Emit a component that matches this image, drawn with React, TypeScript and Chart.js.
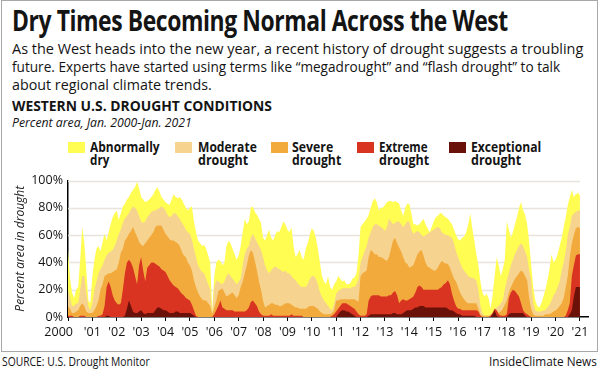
import React, { useEffect, useLayoutEffect, useRef, useState } from "react";
import { Chart, registerables } from "chart.js";

Chart.register(...registerables);

// ---------- DATA (monthly samples, Jan 2000 .. Jan 2021, cumulative % area) ----------
const START_YEAR = 2000;
const STEPS_PER_YEAR = 12;

const ABNORMALLY_DRY = [
  49, 28, 18, 14, 20, 22, 42, 66, 55, 35, 12, 10, // 2000
  30, 42, 50, 52, 48, 55, 61, 56, 62, 68, 73, 76, // 2001
  78, 71, 76, 81, 83, 86, 88, 91, 93, 95, 99, 94, // 2002
  88, 86, 84, 85, 86, 88, 90, 93, 95, 92, 88, 86, // 2003
  84, 83, 82, 86, 90, 88, 87, 88, 86, 83, 80, 78, // 2004
  80, 81, 70, 62, 56, 54, 52, 53, 50, 45, 40, 4, // 2005
  30, 40, 42, 41, 38, 40, 52, 56, 54, 50, 46, 42, // 2006
  45, 52, 62, 72, 68, 70, 80, 81, 77, 75, 72, 69, // 2007
  58, 56, 60, 64, 58, 56, 60, 63, 62, 66, 70, 68, // 2008
  64, 62, 66, 52, 44, 46, 49, 44, 42, 50, 54, 60, // 2009
  65, 63, 58, 50, 40, 30, 26, 24, 30, 22, 20, 24, // 2010
  26, 30, 28, 26, 27, 24, 24, 25, 28, 29, 32, 45, // 2011
  66, 68, 70, 72, 75, 80, 85, 87, 84, 78, 80, 80, // 2012
  82, 84, 85, 85, 84, 85, 84, 83, 78, 74, 80, 83, // 2013
  83, 76, 68, 68, 67, 68, 70, 72, 68, 65, 62, 66, // 2014
  70, 73, 74, 76, 76, 74, 73, 72, 70, 68, 64, 60, // 2015
  57, 56, 58, 59, 62, 68, 76, 65, 56, 46, 38, 26, // 2016
  18, 15, 17, 14, 6, 16, 30, 44, 38, 30, 35, 42, // 2017
  70, 64, 58, 62, 68, 73, 80, 84, 78, 75, 68, 55, // 2018
  38, 22, 12, 8, 7, 10, 15, 20, 27, 35, 46, 40, // 2019
  42, 46, 52, 58, 66, 73, 82, 88, 93, 88, 90, 91, // 2020
  89, // Jan 2021
];

const MODERATE = [
  20, 14, 8, 8, 10, 10, 20, 30, 30, 18, 8, 5,
  10, 20, 26, 32, 35, 38, 42, 45, 47, 48, 49, 52,
  56, 61, 64, 69, 72, 74, 76, 79, 81, 80, 78, 74,
  70, 69, 70, 73, 75, 77, 78, 78, 79, 80, 81, 80,
  78, 75, 73, 74, 76, 76, 74, 72, 69, 67, 64, 62,
  61, 57, 50, 44, 38, 35, 33, 32, 28, 24, 20, 3,
  22, 27, 26, 25, 24, 26, 30, 32, 30, 28, 26, 24,
  26, 28, 38, 46, 50, 52, 58, 61, 58, 55, 52, 49,
  44, 38, 34, 32, 34, 36, 37, 36, 35, 34, 33, 34,
  32, 32, 30, 28, 27, 25, 23, 22, 22, 22, 24, 28,
  30, 30, 28, 24, 18, 15, 12, 10, 8, 6, 5, 10,
  17, 19, 20, 21, 21, 21, 21, 21, 22, 22, 24, 28,
  40, 44, 48, 52, 58, 62, 66, 68, 68, 67, 66, 65,
  63, 66, 72, 70, 68, 69, 70, 70, 68, 66, 68, 70,
  70, 64, 61, 62, 63, 62, 60, 59, 60, 61, 62, 63,
  64, 65, 66, 65, 62, 61, 60, 60, 59, 58, 54, 48,
  44, 40, 36, 34, 32, 30, 29, 29, 28, 27, 20, 8,
  3, 1, 1, 1, 2, 3, 6, 7, 8, 10, 12, 20,
  27, 32, 38, 42, 46, 49, 52, 54, 52, 48, 44, 34,
  27, 10, 5, 4, 4, 4, 5, 5, 7, 9, 12, 16,
  18, 22, 26, 34, 40, 48, 60, 66, 74, 76, 77, 78,
  78,
];

const SEVERE = [
  8, 6, 3, 3, 4, 5, 8, 10, 8, 4, 3, 3,
  3, 5, 8, 12, 20, 24, 30, 31, 32, 32, 33, 34,
  35, 40, 47, 50, 56, 58, 61, 63, 66, 62, 59, 55,
  53, 52, 54, 56, 58, 60, 62, 66, 67, 67, 67, 64,
  61, 59, 57, 56, 56, 55, 54, 52, 48, 45, 44, 40,
  38, 34, 27, 22, 18, 15, 13, 12, 12, 10, 8, 2,
  7, 12, 19, 20, 21, 18, 15, 16, 17, 18, 16, 14,
  16, 22, 26, 32, 38, 45, 49, 47, 41, 34, 26, 20,
  12, 7, 8, 9, 10, 10, 9, 9, 8, 8, 9, 10,
  10, 10, 9, 8, 7, 7, 6, 6, 6, 6, 7, 8,
  8, 8, 7, 6, 4, 3, 2, 2, 2, 2, 3, 5,
  12, 12, 13, 13, 13, 13, 13, 13, 13, 13, 12, 11,
  30, 32, 33, 34, 44, 49, 48, 46, 46, 44, 44, 43,
  42, 41, 44, 50, 56, 58, 54, 51, 48, 44, 40, 39,
  36, 37, 38, 42, 46, 48, 49, 45, 40, 37, 36, 35,
  34, 34, 36, 39, 41, 40, 39, 39, 36, 32, 28, 26,
  22, 18, 15, 13, 11, 10, 10, 10, 10, 10, 6, 2,
  1, 1, 1, 1, 1, 3, 6, 5, 3, 4, 6, 9,
  12, 18, 22, 25, 28, 30, 32, 34, 33, 30, 27, 14,
  6, 2, 1, 1, 1, 1, 1, 2, 2, 2, 3, 4,
  5, 6, 8, 10, 14, 22, 30, 44, 54, 60, 65, 66,
  65,
];

const EXTREME = [
  1, 1, 1, 0, 0, 0, 1, 1, 1, 0, 0, 0,
  0, 0, 0, 1, 1, 2, 8, 22, 26, 22, 16, 12,
  10, 9, 10, 20, 32, 40, 42, 40, 36, 30, 24, 38,
  44, 34, 26, 36, 38, 40, 40, 39, 38, 37, 35, 34,
  33, 30, 27, 25, 23, 22, 21, 19, 17, 16, 14, 13,
  12, 9, 5, 1, 0, 0, 0, 0, 0, 0, 0, 0,
  2, 5, 8, 12, 7, 6, 5, 5, 5, 5, 4, 4,
  4, 4, 4, 4, 5, 7, 11, 12, 10, 8, 4, 2,
  1, 1, 1, 1, 2, 1, 1, 1, 1, 1, 1, 1,
  1, 1, 2, 1, 1, 1, 1, 1, 0, 0, 0, 0,
  0, 0, 0, 0, 0, 0, 0, 0, 0, 0, 1, 2,
  4, 6, 8, 10, 10, 10, 9, 8, 7, 6, 4, 2,
  1, 1, 1, 2, 12, 15, 16, 16, 16, 16, 15, 15,
  15, 15, 16, 16, 18, 19, 16, 10, 12, 13, 12, 12,
  13, 14, 15, 18, 22, 23, 22, 20, 20, 20, 20, 20,
  20, 20, 20, 21, 22, 24, 25, 27, 24, 17, 12, 8,
  6, 6, 5, 5, 5, 5, 5, 5, 5, 5, 4, 1,
  0, 0, 0, 0, 1, 3, 6, 5, 2, 1, 1, 1,
  2, 14, 18, 20, 19, 17, 15, 10, 5, 3, 2, 1,
  0, 0, 0, 0, 0, 0, 0, 0, 0, 0, 0, 0,
  0, 0, 0, 0, 0, 1, 5, 10, 30, 38, 45, 46,
  46,
];

const EXCEPTIONAL = [
  0, 0, 0, 0, 0, 0, 0, 0, 0, 0, 0, 0,
  0, 0, 0, 0, 0, 0, 0, 1, 1, 0, 0, 0,
  0, 0, 0, 0, 1, 6, 12, 8, 4, 3, 3, 4,
  5, 3, 2, 3, 3, 3, 3, 5, 7, 7, 6, 5,
  5, 4, 3, 3, 3, 4, 4, 3, 3, 3, 3, 3,
  3, 2, 1, 0, 0, 0, 0, 0, 0, 0, 0, 0,
  0, 0, 0, 0, 0, 0, 0, 0, 0, 0, 0, 0,
  0, 0, 0, 0, 0, 0, 0, 0, 0, 0, 0, 0,
  0, 0, 0, 0, 0, 0, 0, 0, 0, 0, 0, 0,
  0, 0, 0, 0, 0, 0, 0, 0, 0, 0, 0, 0,
  0, 0, 0, 0, 0, 0, 0, 0, 0, 0, 0, 0,
  0, 2, 4, 5, 5, 4, 4, 3, 2, 1, 0, 0,
  0, 0, 0, 0, 1, 2, 2, 2, 2, 2, 2, 2,
  2, 2, 2, 2, 3, 3, 2, 2, 2, 3, 4, 5,
  5, 5, 6, 7, 7, 8, 8, 8, 7, 7, 7, 7,
  7, 7, 7, 7, 7, 7, 7, 6, 5, 5, 4, 3,
  2, 2, 1, 1, 1, 1, 1, 1, 1, 0, 0, 0,
  0, 0, 0, 0, 0, 2, 5, 1, 0, 0, 0, 0,
  0, 2, 3, 3, 3, 3, 3, 3, 3, 1, 0, 0,
  0, 0, 0, 0, 0, 0, 0, 0, 0, 0, 0, 0,
  0, 0, 0, 0, 0, 0, 0, 2, 5, 15, 22, 22,
  22,
];

const X_TICK_VALUES = [
  2000, 2001, 2002, 2003, 2004, 2005, 2006, 2007, 2008, 2009, 2010,
  2011, 2012, 2013, 2014, 2015, 2016, 2017, 2018, 2019, 2020, 2021,
];
const X_TICK_LABELS = [
  "2000", "'01", "'02", "'03", "'04", "'05", "'06", "'07", "'08", "'09", "'10",
  "'11", "'12", "'13", "'14", "'15", "'16", "'17", "'18", "'19", "'20", "'21",
];
const Y_TICK_VALUES = [0, 20, 40, 60, 80, 100];
const GRID_VALUES = [20, 40, 60, 80, 100];

const SERIES_NAMES = ["Abnormally dry", "Moderate drought", "Severe drought", "Extreme drought", "Exceptional drought"];
const LEGEND_LINES = [
  ["Abnormally", "dry"],
  ["Moderate", "drought"],
  ["Severe", "drought"],
  ["Extreme", "drought"],
  ["Exceptional", "drought"],
];
const SERIES_VALUES = [ABNORMALLY_DRY, MODERATE, SEVERE, EXTREME, EXCEPTIONAL];
const COLORS = ["#FFFD52", "#F6D48F", "#F2AA3C", "#D93322", "#6A1209"];

// ---------- layout constants ----------
const FONT = "'Open Sans', 'DejaVu Sans', sans-serif";
const TEXT = "#141414";
const GRID_COLOR = "#E8E4DC";
// the first year label sits left of its tick in the original (padded with trailing spaces)
const FIRST_LABEL_PAD = "\u2002\u2002\u2002";

const gridPlugin = {
  id: "yGridBehind",
  beforeDatasetsDraw(chart: any) {
    const { ctx, scales } = chart;
    const x = scales.x;
    const y = scales.y;
    ctx.save();
    ctx.strokeStyle = GRID_COLOR;
    ctx.lineWidth = 1.5;
    const x0 = x.getPixelForValue(X_TICK_VALUES[0]);
    const x1 = x.getPixelForValue(X_TICK_VALUES[X_TICK_VALUES.length - 1]);
    for (const v of GRID_VALUES) {
      const py = Math.round(y.getPixelForValue(v)) + 0.5;
      ctx.beginPath();
      ctx.moveTo(x0, py);
      ctx.lineTo(x1, py);
      ctx.stroke();
    }
    ctx.restore();
  },
};

function Fit({ text, width, style }: { text: string; width: number; style: React.CSSProperties }) {
  const ref = useRef<HTMLSpanElement>(null);
  const [scale, setScale] = useState(1);
  useLayoutEffect(() => {
    const el = ref.current;
    if (!el) return;
    const w = el.offsetWidth;
    if (w > 0) setScale(width / w);
  }, [text, width]);
  return (
    <span
      ref={ref}
      style={{
        position: "absolute",
        whiteSpace: "nowrap",
        lineHeight: 1,
        transform: `scaleX(${scale})`,
        transformOrigin: "left top",
        ...style,
      }}
    >
      {text}
    </span>
  );
}

function DroughtChart() {
  const canvasRef = useRef<HTMLCanvasElement>(null);
  useEffect(() => {
    const canvas = canvasRef.current;
    if (!canvas) return;
    const makePoints = (vals: number[]) =>
      vals.map((v, i) => ({ x: START_YEAR + i / STEPS_PER_YEAR, y: v }));
    // dataset 0 is drawn on top in Chart.js, so darkest first
    const order = [4, 3, 2, 1, 0];
    const chart = new Chart(canvas, {
      type: "line",
      data: {
        datasets: order.map((k) => ({
          label: SERIES_NAMES[k],
          data: makePoints(SERIES_VALUES[k]),
          backgroundColor: COLORS[k],
          borderColor: COLORS[k],
          borderWidth: 0,
          pointRadius: 0,
          fill: "origin",
          tension: 0,
        })),
      },
      options: {
        animation: false,
        responsive: false,
        maintainAspectRatio: false,
        layout: { padding: { top: 11, right: 12, left: 0, bottom: 0 } },
        plugins: {
          legend: { display: false },
          tooltip: { enabled: false },
        },
        scales: {
          x: {
            type: "linear",
            min: 2000,
            max: 2021.33,
            afterBuildTicks: (s: any) => {
              s.ticks = X_TICK_VALUES.map((v) => ({ value: v }));
            },
            afterFit: (s: any) => {
              s.height = 33;
            },
            ticks: {
              autoSkip: false,
              maxRotation: 0,
              padding: 4,
              color: TEXT,
              font: { family: FONT, size: 12.5 },
              callback: (_v: any, i: number) =>
                i === 0 ? X_TICK_LABELS[i] + FIRST_LABEL_PAD : X_TICK_LABELS[i],
            },
            grid: {
              display: true,
              drawOnChartArea: false,
              drawTicks: true,
              tickLength: 4,
              color: "#000",
              lineWidth: 1,
            },
            border: { display: true, color: "#000", width: 1.5 },
          },
          y: {
            min: 0,
            max: 100,
            afterBuildTicks: (s: any) => {
              s.ticks = Y_TICK_VALUES.map((v) => ({ value: v }));
            },
            afterFit: (s: any) => {
              s.width = 68;
            },
            ticks: {
              padding: 5,
              color: TEXT,
              font: { family: FONT, size: 12.5 },
              callback: (v: any) => `${v}%`,
            },
            grid: { display: false, drawTicks: false },
            border: { display: true, color: "#000", width: 1.5 },
            title: {
              display: true,
              text: "Percent area in drought",
              color: "#222",
              font: { family: FONT, size: 12, style: "italic" },
              padding: { top: 13, bottom: 0 },
            },
          },
        },
      } as any,
      plugins: [gridPlugin],
    });
    return () => chart.destroy();
  }, []);
  return (
    <canvas
      ref={canvasRef}
      width={600}
      height={182}
      style={{ position: "absolute", left: 0, top: 168, width: 600, height: 182 }}
    />
  );
}

const LEGEND_BOX_LEFT = [68, 175, 271, 357, 449];
const LEGEND_TEXT_LEFT = [90, 198, 292, 379, 471];
const LEGEND_W1 = [70, 59, 41, 49, 70];
const LEGEND_W2 = [19, 50, 49, 50, 50];

export default function App() {
  return (
    <div
      style={{
        position: "absolute",
        left: 0,
        top: 0,
        width: 600,
        height: 371,
        background: "#fff",
        overflow: "hidden",
        fontFamily: FONT,
        color: TEXT,
      }}
    >
      <div
        style={{
          position: "absolute",
          left: 1,
          top: 0,
          width: 597,
          height: 352,
          border: "1px solid #A8A8A8",
          boxSizing: "border-box",
        }}
      />
      <Fit
        text="Dry Times Becoming Normal Across the West"
        width={496}
        style={{ left: 12, top: 6, fontSize: 28, fontWeight: 700, letterSpacing: -0.5 }}
      />
      <Fit
        text="As the West heads into the new year, a recent history of drought suggests a troubling"
        width={571}
        style={{ left: 12, top: 41, fontSize: 15 }}
      />
      <Fit
        text="future. Experts have started using terms like “megadrought” and “flash drought” to talk"
        width={548}
        style={{ left: 12, top: 59, fontSize: 15 }}
      />
      <Fit text="about regional climate trends." width={200} style={{ left: 12, top: 77, fontSize: 15 }} />
      <Fit
        text="WESTERN U.S. DROUGHT CONDITIONS"
        width={260}
        style={{ left: 12, top: 98.5, fontSize: 14.5, fontWeight: 700 }}
      />
      <Fit
        text="Percent area, Jan. 2000-Jan. 2021"
        width={180}
        style={{ left: 12, top: 116, fontSize: 13, fontStyle: "italic" }}
      />
      {LEGEND_LINES.map((lines, i) => (
        <React.Fragment key={i}>
          <div
            style={{
              position: "absolute",
              left: LEGEND_BOX_LEFT[i],
              top: 142,
              width: 17,
              height: 10.5,
              background: COLORS[i],
            }}
          />
          <Fit
            text={lines[0]}
            width={LEGEND_W1[i]}
            style={{ left: LEGEND_TEXT_LEFT[i], top: 141, fontSize: 13.5, fontWeight: 700 }}
          />
          <Fit
            text={lines[1]}
            width={LEGEND_W2[i]}
            style={{ left: LEGEND_TEXT_LEFT[i], top: 153.5, fontSize: 13.5, fontWeight: 700 }}
          />
        </React.Fragment>
      ))}
      <DroughtChart />
      <Fit
        text="SOURCE: U.S. Drought Monitor"
        width={148}
        style={{ left: 2, top: 356, fontSize: 12 }}
      />
      <Fit text="InsideClimate News" width={108} style={{ left: 489, top: 356, fontSize: 12 }} />
    </div>
  );
}
